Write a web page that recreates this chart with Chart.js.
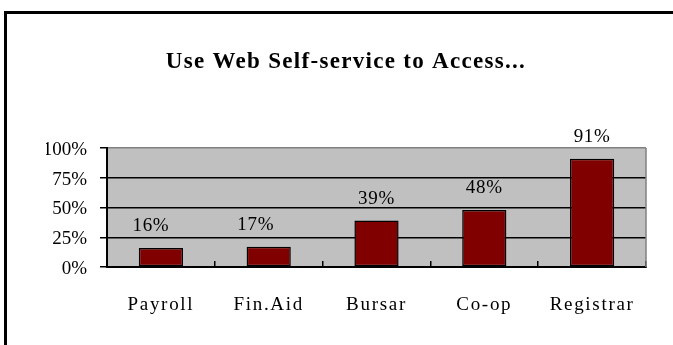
<!DOCTYPE html>
<html>
<head>
<meta charset="utf-8">
<script src="https://cdn.jsdelivr.net/npm/chart.js@4.4.1/dist/chart.umd.min.js"></script>
<style>
  html, body { margin: 0; padding: 0; background: #fff; }
  canvas { display: block; }
</style>
</head>
<body>
<canvas id="chart" width="673" height="345"></canvas>
<script>
// DATA
const services = ['Payroll', 'Fin.Aid', 'Bursar', 'Co-op', 'Registrar'];
const usage = [16, 17, 39, 48, 91];
const yTicks = [0, 25, 50, 75, 100];
const chartTitle = 'Use Web Self-service to Access...';

// the first two value labels sit a little left of their bars
const valueLabelShift = [-10, -13, 0, 0, 0];

const SERIF = "'Liberation Serif', 'Times New Roman', serif";

// wrap a draw method so its text gets extra letter spacing
function withSpacing(box, method, spacing) {
  if (!box || box['_spaced_' + method]) return;
  const orig = box[method];
  box[method] = function (...args) {
    const ctx = this.ctx;
    ctx.save();
    ctx.letterSpacing = spacing;
    orig.apply(this, args);
    ctx.restore();
  };
  box['_spaced_' + method] = true;
}

const letterSpacing = {
  id: 'letterSpacing',
  afterLayout(chart) {
    withSpacing(chart.scales.x, 'drawLabels', '1.7px');
    withSpacing(chart.titleBlock, 'draw', '1.3px');
  }
};

// white page, black frame lines, grey plot area
const plotFrame = {
  id: 'plotFrame',
  beforeDraw(chart) {
    const { ctx, chartArea: a } = chart;
    ctx.save();
    ctx.fillStyle = '#fff';
    ctx.fillRect(0, 0, chart.width, chart.height);
    ctx.fillStyle = '#000';
    ctx.fillRect(4, 11, chart.width - 4, 3);
    ctx.fillRect(4, 11, 3, chart.height - 11);
    ctx.fillStyle = '#c0c0c0';
    ctx.fillRect(a.left, a.top, a.right - a.left, a.bottom - a.top);
    ctx.restore();
  },
  beforeDatasetsDraw(chart) {
    const { ctx, chartArea: a } = chart;
    ctx.save();
    ctx.strokeStyle = '#808080';
    ctx.lineWidth = 1.5;
    ctx.beginPath();
    ctx.moveTo(a.right, a.top);
    ctx.lineTo(a.right, a.bottom);
    ctx.stroke();
    ctx.restore();
  }
};

// percentage above each bar
const valueLabels = {
  id: 'valueLabels',
  afterDatasetsDraw(chart) {
    const { ctx } = chart;
    const bars = chart.getDatasetMeta(0).data;
    ctx.save();
    ctx.font = `19px ${SERIF}`;
    ctx.fillStyle = '#000';
    ctx.textAlign = 'center';
    ctx.textBaseline = 'middle';
    ctx.letterSpacing = '0.7px';
    bars.forEach((bar, i) => {
      ctx.fillText(usage[i] + '%', bar.x + valueLabelShift[i], bar.y - 22);
    });
    ctx.restore();
  }
};

new Chart(document.getElementById('chart'), {
  type: 'bar',
  data: {
    labels: services,
    datasets: [{
      data: usage,
      backgroundColor: '#800000',
      borderColor: '#000',
      borderWidth: 1.5,
      borderSkipped: false,
      categoryPercentage: 1,
      barPercentage: 0.41
    }]
  },
  options: {
    responsive: false,
    animation: false,
    devicePixelRatio: 1,
    layout: { padding: { left: 46, right: 27, top: 0, bottom: 0 } },
    plugins: {
      legend: { display: false },
      tooltip: { enabled: false },
      title: {
        display: true,
        text: chartTitle,
        color: '#000',
        font: { family: SERIF, size: 23, weight: 'bold' },
        padding: { top: 48.7, bottom: 71.7 }
      }
    },
    scales: {
      x: {
        grid: {
          drawOnChartArea: false,
          offset: true,
          color: '#000',
          tickColor: '#000',
          tickLength: -6,
          lineWidth: 1.5
        },
        border: { color: '#000', width: 2 },
        ticks: {
          color: '#000',
          font: { family: SERIF, size: 19 },
          padding: 32.6,
          maxRotation: 0,
          autoSkip: false
        },
        afterFit: s => { s.height = 78; }
      },
      y: {
        min: 0,
        max: 100,
        afterBuildTicks: s => { s.ticks = yTicks.map(v => ({ value: v })); },
        ticks: {
          callback: v => v + '%',
          color: '#000',
          font: { family: SERIF, size: 19 },
          padding: 13,
          labelOffset: 2
        },
        grid: {
          color: c => (c.tick && c.tick.value === 100 ? '#808080' : '#000'),
          tickColor: '#000',
          lineWidth: 1.5,
          tickLength: 7
        },
        border: { color: '#000', width: 2 },
        afterFit: s => { s.width = 61; }
      }
    }
  },
  plugins: [plotFrame, letterSpacing, valueLabels]
});
</script>
</body>
</html>
